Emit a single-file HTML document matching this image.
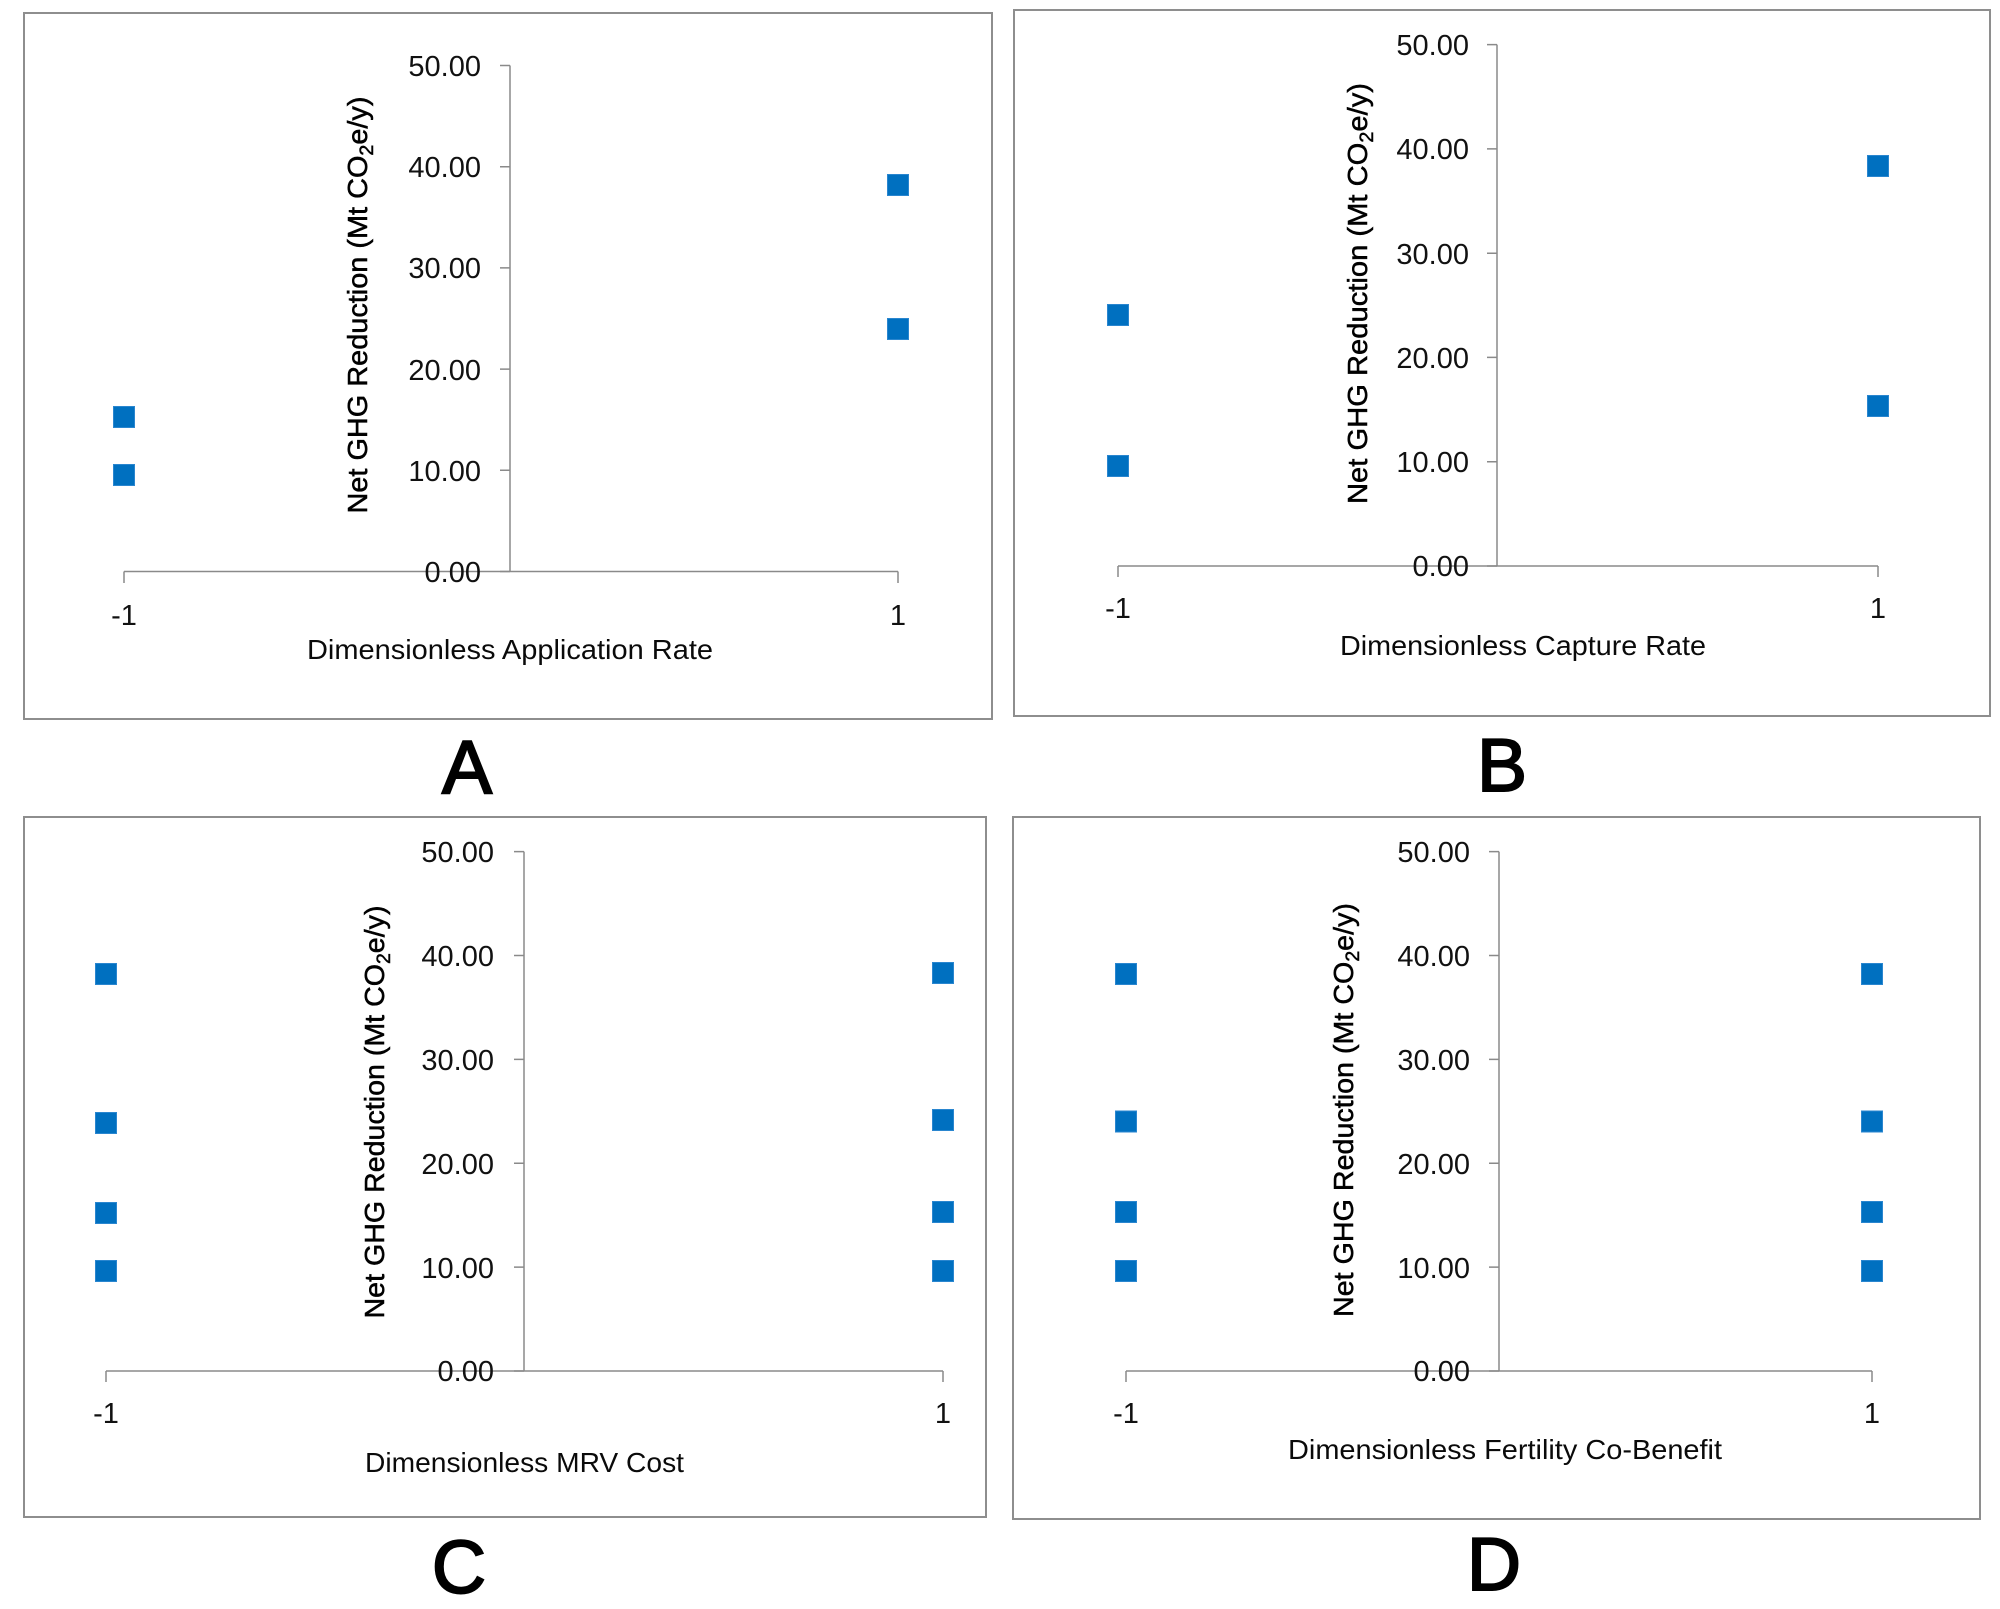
<!DOCTYPE html>
<html>
<head>
<meta charset="utf-8">
<style>
html,body{margin:0;padding:0;background:#fff;}
svg{display:block;}
text{font-family:"Liberation Sans",Arial,sans-serif;}
.tk{font-size:29px;fill:#111;text-anchor:end;}
.xl{font-size:29px;fill:#111;text-anchor:middle;}
.xt{font-size:28px;fill:#0a0a0a;text-anchor:middle;}
.yt{font-size:28px;fill:#000;text-anchor:middle;stroke:#000;stroke-width:0.5;}
.lt{font-size:75px;fill:#000;text-anchor:middle;stroke:#000;stroke-width:2;}
.ax{stroke:#8a8a8a;stroke-width:1.5;fill:none;}
.bx{stroke:#8e8e8e;stroke-width:2;fill:#fff;}
.m{fill:#0070C0;stroke:#2a86cf;stroke-width:1;}
</style>
</head>
<body>
<svg width="2000" height="1609" viewBox="0 0 2000 1609" xmlns="http://www.w3.org/2000/svg">
<rect x="0" y="0" width="2000" height="1609" fill="#fff"/>

<!-- Panel A -->
<rect class="bx" x="24" y="13" width="968" height="706"/>
<path class="ax" d="M510 65.5 V571.5 M500 65.5 H510 M500 166.7 H510 M500 267.9 H510 M500 369.1 H510 M500 470.3 H510 M500 571.5 H510"/>
<path class="ax" d="M124 571.5 H898 M124 571.5 V583 M898 571.5 V583"/>
<text class="tk" x="481" y="76">50.00</text>
<text class="tk" x="481" y="177">40.00</text>
<text class="tk" x="481" y="278">30.00</text>
<text class="tk" x="481" y="380">20.00</text>
<text class="tk" x="481" y="481">10.00</text>
<text class="tk" x="481" y="582">0.00</text>
<text class="xl" x="124" y="625">-1</text>
<text class="xl" x="898" y="625">1</text>
<text class="xt" x="510" y="659" textLength="406" lengthAdjust="spacingAndGlyphs">Dimensionless Application Rate</text>
<text class="yt" transform="translate(367,305) rotate(-90)" textLength="417" lengthAdjust="spacingAndGlyphs">Net GHG Reduction (Mt CO<tspan font-size="19" dy="6">2</tspan><tspan dy="-6">e/y)</tspan></text>
<rect class="m" x="113.5" y="406.5" width="21" height="21"/>
<rect class="m" x="113.5" y="464.5" width="21" height="21"/>
<rect class="m" x="887.5" y="174.5" width="21" height="21"/>
<rect class="m" x="887.5" y="318.5" width="21" height="21"/>
<text class="lt" x="467" y="793">A</text>

<!-- Panel B -->
<rect class="bx" x="1014" y="10" width="976" height="706"/>
<path class="ax" d="M1497 44.6 V566 M1487 44.6 H1497 M1487 148.9 H1497 M1487 253.2 H1497 M1487 357.4 H1497 M1487 461.7 H1497 M1487 566 H1497"/>
<path class="ax" d="M1118 566 H1878 M1118 566 V577 M1878 566 V577"/>
<text class="tk" x="1469" y="55">50.00</text>
<text class="tk" x="1469" y="159">40.00</text>
<text class="tk" x="1469" y="264">30.00</text>
<text class="tk" x="1469" y="368">20.00</text>
<text class="tk" x="1469" y="472">10.00</text>
<text class="tk" x="1469" y="576">0.00</text>
<text class="xl" x="1118" y="618">-1</text>
<text class="xl" x="1878" y="618">1</text>
<text class="xt" x="1523" y="655" textLength="366" lengthAdjust="spacingAndGlyphs">Dimensionless Capture Rate</text>
<text class="yt" transform="translate(1367,293.5) rotate(-90)" textLength="421" lengthAdjust="spacingAndGlyphs">Net GHG Reduction (Mt CO<tspan font-size="19" dy="6">2</tspan><tspan dy="-6">e/y)</tspan></text>
<rect class="m" x="1107.5" y="304.5" width="21" height="21"/>
<rect class="m" x="1107.5" y="455.5" width="21" height="21"/>
<rect class="m" x="1867.5" y="155.5" width="21" height="21"/>
<rect class="m" x="1867.5" y="395.5" width="21" height="21"/>
<text class="lt" x="1502" y="791">B</text>

<!-- Panel C -->
<rect class="bx" x="24" y="817" width="962" height="700"/>
<path class="ax" d="M524 851.6 V1371 M514 851.6 H524 M514 955.5 H524 M514 1059.4 H524 M514 1163.2 H524 M514 1267.1 H524 M514 1371 H524"/>
<path class="ax" d="M106 1371 H943 M106 1371 V1382 M943 1371 V1382"/>
<text class="tk" x="494" y="862">50.00</text>
<text class="tk" x="494" y="966">40.00</text>
<text class="tk" x="494" y="1070">30.00</text>
<text class="tk" x="494" y="1174">20.00</text>
<text class="tk" x="494" y="1278">10.00</text>
<text class="tk" x="494" y="1381">0.00</text>
<text class="xl" x="106" y="1423">-1</text>
<text class="xl" x="943" y="1423">1</text>
<text class="xt" x="524.5" y="1472" textLength="319" lengthAdjust="spacingAndGlyphs">Dimensionless MRV Cost</text>
<text class="yt" transform="translate(384,1112) rotate(-90)" textLength="413" lengthAdjust="spacingAndGlyphs">Net GHG Reduction (Mt CO<tspan font-size="19" dy="6">2</tspan><tspan dy="-6">e/y)</tspan></text>
<rect class="m" x="95.5" y="963.5" width="21" height="21"/>
<rect class="m" x="95.5" y="1112.5" width="21" height="21"/>
<rect class="m" x="95.5" y="1202.5" width="21" height="21"/>
<rect class="m" x="95.5" y="1260.5" width="21" height="21"/>
<rect class="m" x="932.5" y="962.5" width="21" height="21"/>
<rect class="m" x="932.5" y="1109.5" width="21" height="21"/>
<rect class="m" x="932.5" y="1201.5" width="21" height="21"/>
<rect class="m" x="932.5" y="1260.5" width="21" height="21"/>
<text class="lt" x="459" y="1593">C</text>

<!-- Panel D -->
<rect class="bx" x="1013" y="817" width="967" height="702"/>
<path class="ax" d="M1499 851.6 V1371 M1489 851.6 H1499 M1489 955.5 H1499 M1489 1059.4 H1499 M1489 1163.2 H1499 M1489 1267.1 H1499 M1489 1371 H1499"/>
<path class="ax" d="M1126 1371 H1872 M1126 1371 V1382 M1872 1371 V1382"/>
<text class="tk" x="1470" y="862">50.00</text>
<text class="tk" x="1470" y="966">40.00</text>
<text class="tk" x="1470" y="1070">30.00</text>
<text class="tk" x="1470" y="1174">20.00</text>
<text class="tk" x="1470" y="1278">10.00</text>
<text class="tk" x="1470" y="1381">0.00</text>
<text class="xl" x="1126" y="1423">-1</text>
<text class="xl" x="1872" y="1423">1</text>
<text class="xt" x="1505" y="1459" textLength="434" lengthAdjust="spacingAndGlyphs">Dimensionless Fertility Co-Benefit</text>
<text class="yt" transform="translate(1353,1110) rotate(-90)" textLength="414" lengthAdjust="spacingAndGlyphs">Net GHG Reduction (Mt CO<tspan font-size="19" dy="6">2</tspan><tspan dy="-6">e/y)</tspan></text>
<rect class="m" x="1115.5" y="963.5" width="21" height="21"/>
<rect class="m" x="1115.5" y="1111" width="21" height="21"/>
<rect class="m" x="1115.5" y="1201.5" width="21" height="21"/>
<rect class="m" x="1115.5" y="1260.5" width="21" height="21"/>
<rect class="m" x="1861.5" y="963.5" width="21" height="21"/>
<rect class="m" x="1861.5" y="1111" width="21" height="21"/>
<rect class="m" x="1861.5" y="1201.5" width="21" height="21"/>
<rect class="m" x="1861.5" y="1260.5" width="21" height="21"/>
<text class="lt" x="1494" y="1590">D</text>
</svg>
</body>
</html>
